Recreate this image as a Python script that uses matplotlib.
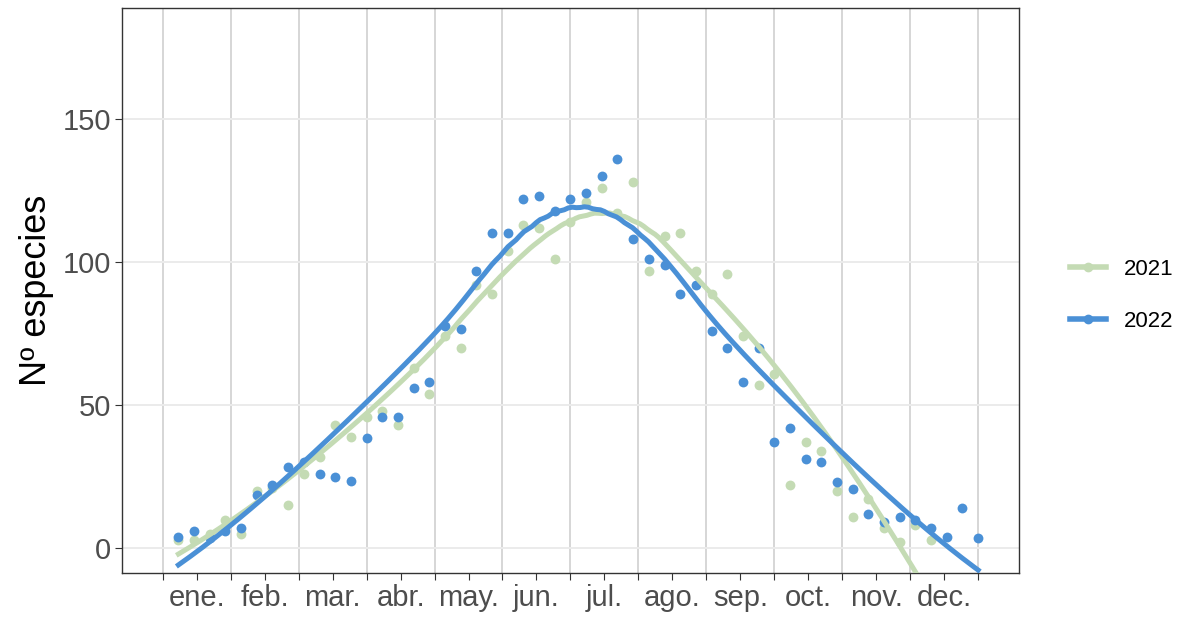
import numpy as np
import matplotlib.pyplot as plt
from matplotlib.lines import Line2D

plt.rcParams['font.family'] = ['Liberation Sans', 'DejaVu Sans']

# weekly species counts
weeks_2021 = np.arange(1, 50)
species_2021 = [3, 3, 5, 10, 5, 20, 21, 15, 26, 32, 43, 39, 46, 48, 43, 63, 54,
                74, 70, 92, 89, 104, 113, 112, 101, 114, 121, 126, 117, 128, 97,
                109, 110, 97, 89, 96, 74, 57, 61, 22, 37, 34, 20, 11, 17, 7, 2,
                8, 3]

weeks_2022 = np.arange(1, 53)
species_2022 = [4, 6, 3.5, 6, 7, 18.5, 22, 28.5, 30, 26, 25, 23.5, 38.5, 46,
                46, 56, 58, 77.5, 76.5, 97, 110, 110, 122, 123, 118, 122, 124,
                130, 136, 108, 101, 99, 89, 92, 76, 70, 58, 70, 37, 42, 31, 30,
                23, 20.5, 12, 9, 11, 10, 7, 4, 14, 3.5]

months = ['ene.', 'feb.', 'mar.', 'abr.', 'may.', 'jun.', 'jul.', 'ago.',
          'sep.', 'oct.', 'nov.', 'dec.']

col_2021 = '#c4dbb4'
col_2022 = '#4a90d6'


def loess(x, y, xs, span=0.75):
    # local quadratic fit with tricube weights
    x = np.asarray(x, float)
    y = np.asarray(y, float)
    q = int(np.floor(len(x) * span))
    fit = []
    for x0 in xs:
        d = np.abs(x - x0)
        h = np.sort(d)[q - 1]
        w = np.clip(1 - (d / h) ** 3, 0, None) ** 3
        A = np.vstack([np.ones_like(x), x - x0, (x - x0) ** 2]).T
        sw = np.sqrt(w)
        beta = np.linalg.lstsq(A * sw[:, None], y * sw, rcond=None)[0]
        fit.append(beta[0])
    return np.array(fit)


fig = plt.figure(figsize=(11.84, 6.19), dpi=100)
ax = fig.add_axes([0.103, 0.0743, 0.7576, 0.9127])

ax.scatter(weeks_2021, species_2021, s=50, color=col_2021, zorder=3, linewidths=0)
ax.scatter(weeks_2022, species_2022, s=50, color=col_2022, zorder=3, linewidths=0)

xs21 = np.linspace(weeks_2021[0], weeks_2021[-1], 200)
xs22 = np.linspace(weeks_2022[0], weeks_2022[-1], 200)
ax.plot(xs21, loess(weeks_2021, species_2021, xs21), color=col_2021, lw=3.6, zorder=4)
ax.plot(xs22, loess(weeks_2022, species_2022, xs22), color=col_2022, lw=3.6, zorder=5)

# month boundaries as grid, month names at the middle of each month
step = 52 / 12
bounds = np.arange(13) * step
ax.set_xticks(np.arange(25) * step / 2)
ax.set_xticklabels(['' if i % 2 == 0 else months[i // 2] for i in range(25)])
for b in bounds:
    ax.axvline(b, color='#d6d6d6', lw=1.4, zorder=0)
ax.tick_params(axis='x', length=5, color='#333333', labelsize=21,
               labelcolor='#4d4d4d', pad=3)

ax.set_yticks([0, 50, 100, 150])
for v in [0, 50, 100, 150]:
    ax.axhline(v, color='#ebebeb', lw=1.4, zorder=0)
ax.tick_params(axis='y', length=5, color='#333333', labelsize=21,
               labelcolor='#4d4d4d', pad=3)

ax.set_xlim(-2.6, 54.6)
ax.set_ylim(-8.7, 188.8)
ax.set_ylabel('Nº especies', fontsize=26, labelpad=6)
for s in ax.spines.values():
    s.set_color('#333333')
    s.set_linewidth(1.0)

handles = [Line2D([], [], color=col_2021, lw=4, marker='o', markersize=6),
           Line2D([], [], color=col_2022, lw=4, marker='o', markersize=6)]
fig.legend(handles, ['2021', '2022'], loc='center left',
           bbox_to_anchor=(0.9, 0.523), frameon=False, fontsize=16,
           handlelength=1.6, handletextpad=0.8, labelspacing=1.4,
           borderaxespad=0, borderpad=0.2)

fig.savefig('out.png', dpi=100)
